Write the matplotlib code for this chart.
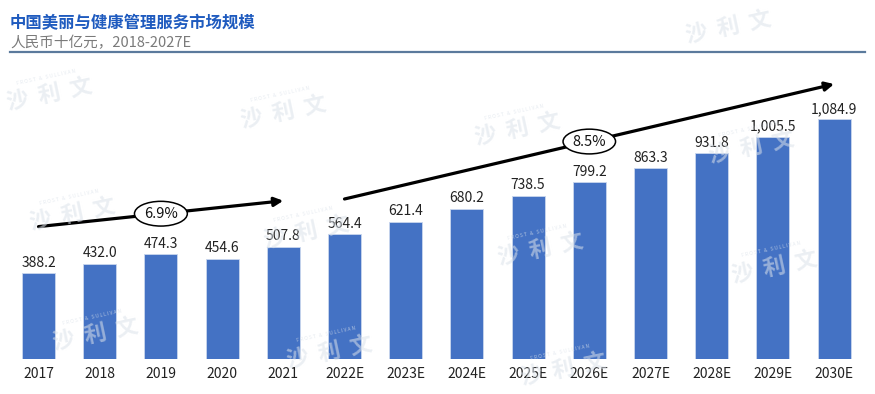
import matplotlib
matplotlib.use("Agg")
import matplotlib.pyplot as plt
from matplotlib.lines import Line2D

plt.rcParams['font.family'] = ['Noto Sans CJK SC', 'DejaVu Sans']

# ---- data ----
years = ["2017", "2018", "2019", "2020", "2021", "2022E", "2023E", "2024E",
         "2025E", "2026E", "2027E", "2028E", "2029E", "2030E"]
values = [388.2, 432.0, 474.3, 454.6, 507.8, 564.4, 621.4, 680.2,
          738.5, 799.2, 863.3, 931.8, 1005.5, 1084.9]
value_labels = ["388.2", "432.0", "474.3", "454.6", "507.8", "564.4", "621.4",
                "680.2", "738.5", "799.2", "863.3", "931.8", "1,005.5", "1,084.9"]
cagr_labels = ["6.9%", "8.5%"]
cagr_ranges = [(0, 4), (5, 13)]          # bar index spans of the arrows
cagr_heights = [(599, 716), (724, 1244)]  # arrow start/end heights (data units)

title = "中国美丽与健康管理服务市场规模"
subtitle = "人民币十亿元，2018-2027E"

W, H = 875, 394
fig = plt.figure(figsize=(W / 100, H / 100), dpi=100)

# watermarks (faint, decorative)
for r in range(-1, 3):
    for c in range(4):
        cx = 50 + 23 * r + 234 * c
        cy = 95 + 120 * r + 17.5 * c
        if not (40 < cx < W - 40 and 12 < cy < H - 14):
            continue
        fig.text(cx / W, 1 - cy / H, "沙  利  文", fontsize=16, rotation=12,
                 color='#dbe2ea', ha='center', va='center',
                 fontweight='bold', zorder=20, alpha=0.55)
        if cy > 30:
            fig.text((cx - 4) / W, 1 - (cy - 18) / H,
                     "F R O S T   &   S U L L I V A N",
                     fontsize=3.5, rotation=12, color='#dbe2ea', alpha=0.7,
                     ha='center', va='center', zorder=20)

# header
fig.text(10 / W, 1 - 23 / H, title, fontsize=11.8, fontweight='bold',
         color='#1f5bbf', ha='left', va='center')
fig.text(10 / W, 1 - 43 / H, subtitle, fontsize=10.5, color='#7a7a7a',
         ha='left', va='center')
fig.add_artist(Line2D([10 / W, 865 / W], [1 - 52 / H, 1 - 52 / H],
                      color='#5b7a9c', lw=1.6, transform=fig.transFigure))

# axes
px_per_unit = 0.221
bar_spacing = 61.2
first_center = 38.5
base_px = 359
top_px = 60
ax = fig.add_axes([0, (H - base_px) / H, 1, (base_px - top_px) / H])
ax.set_xlim(-first_center / bar_spacing, (W - first_center) / bar_spacing)
ax.set_ylim(0, (base_px - top_px) / px_per_unit)
ax.axis('off')

x = list(range(len(years)))
ax.bar(x, values, width=0.54, color='#4472c4', edgecolor='#c9d6ee',
       linewidth=0.6, zorder=2)

for xi, v, lab in zip(x, values, value_labels):
    ax.annotate(lab, (xi, v), xytext=(0, 7.5), textcoords='offset points',
                ha='center', va='center', fontsize=10, color='#222222')
for xi, lab in zip(x, years):
    ax.annotate(lab, (xi, 0), xytext=(0, -10.5), textcoords='offset points',
                ha='center', va='center', fontsize=10, color='#222222',
                annotation_clip=False)

for (i0, i1), (y0, y1), lab in zip(cagr_ranges, cagr_heights, cagr_labels):
    ax.annotate('', xy=(i1, y1), xytext=(i0, y0),
                arrowprops=dict(arrowstyle='-|>', lw=2.3, color='black',
                                mutation_scale=13, shrinkA=0, shrinkB=0),
                zorder=5, annotation_clip=False)
    xm = (i0 + i1) / 2
    ym = (y0 + y1) / 2
    ax.text(xm, ym, lab, ha='center', va='center', fontsize=10.5, color='#111111',
            zorder=6,
            bbox=dict(boxstyle='ellipse,pad=0.12', fc='white', ec='black', lw=1.1))

fig.savefig('out.png', dpi=100)
